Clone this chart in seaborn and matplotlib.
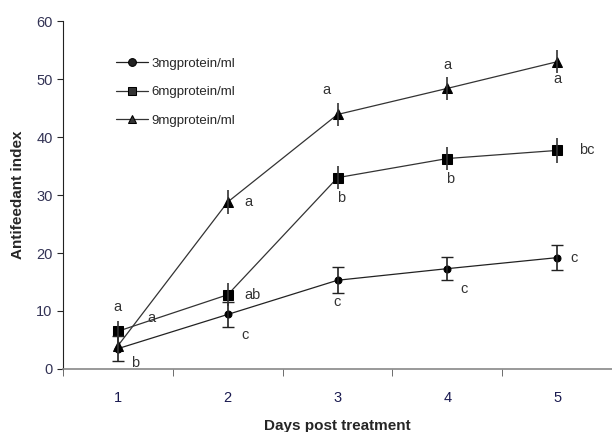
import numpy as np
import pandas as pd
import seaborn as sns
import matplotlib.pyplot as plt

sns.set_style("white")
plt.rcParams['font.family'] = ['Liberation Sans', 'DejaVu Sans']

days = [1, 2, 3, 4, 5]
series = ['3mgprotein/ml', '6mgprotein/ml', '9mgprotein/ml']
mean_3 = [3.5, 9.4, 15.3, 17.3, 19.2]
mean_6 = [6.5, 12.8, 33.0, 36.3, 37.7]
mean_9 = [4.0, 28.8, 43.9, 48.4, 53.0]
err_3 = [2.2, 2.1, 2.2, 2.0, 2.1]
err_6 = [1.8, 2.0, 2.0, 2.0, 2.2]
err_9 = [1.5, 2.0, 2.0, 2.0, 2.0]
letters_3 = ['b', 'c', 'c', 'c', 'c']
letters_6 = ['a', 'ab', 'b', 'b', 'bc']
letters_9 = ['a', 'a', 'a', 'a', 'a']

df = pd.DataFrame({
    'day': days * 3,
    'value': mean_3 + mean_6 + mean_9,
    'conc': [s for s in series for _ in days],
})

fig = plt.figure(figsize=(6.12, 4.32), dpi=100)
ax = fig.add_axes([0.103, 0.146, 0.897, 0.805])

sns.lineplot(data=df, x='day', y='value', hue='conc', style='conc',
             palette=['#222222', '#333333', '#333333'],
             markers={'3mgprotein/ml': 'o', '6mgprotein/ml': 's', '9mgprotein/ml': '^'},
             dashes=False, linewidth=0.9, markersize=7, markeredgecolor='black',
             ax=ax)
for line, ms in zip(ax.lines, [5, 7, 7]):
    line.set_markersize(ms)
    line.set_markerfacecolor('black')

ax.errorbar(days, mean_3, yerr=err_3, fmt='none', ecolor='#222222', elinewidth=1.2, capsize=4)
ax.errorbar(days, mean_6, yerr=err_6, fmt='none', ecolor='#333333', elinewidth=1.2, capsize=0)
ax.errorbar(days, mean_9, yerr=err_9, fmt='none', ecolor='#333333', elinewidth=1.2, capsize=0)

# significance letters (offsets in data units)
off_3 = [(0.12, -2.5), (0.12, -3.5), (0.0, -3.8), (0.12, -3.5), (0.12, 0.0)]
off_6 = [(0.0, 4.2), (0.15, 0.0), (0.03, -3.5), (0.03, -3.5), (0.2, 0.0)]
off_9 = [(0.27, 4.8), (0.15, 0.0), (-0.1, 4.2), (0.0, 4.0), (0.0, -3.0)]
for means, letters, offs in [(mean_3, letters_3, off_3), (mean_6, letters_6, off_6), (mean_9, letters_9, off_9)]:
    for d, m, t, (dx, dy) in zip(days, means, letters, offs):
        ha = 'left' if dx > 0.1 else 'center'
        ax.text(d + dx, m + dy, t, ha=ha, va='center', fontsize=10.5, color='#333333')

ax.set_xlim(0.5, 5.5)
ax.set_ylim(0, 60)
ax.set_yticks(range(0, 61, 10))
ax.set_xticks(days)
ax.set_xticks([0.5, 1.5, 2.5, 3.5, 4.5], minor=True)
ax.tick_params(axis='x', which='major', length=0, pad=16, labelsize=10.5, labelcolor='#1a1a50')
ax.tick_params(axis='x', which='minor', length=5, direction='out', bottom=True, color='#555555')
ax.tick_params(axis='y', length=4, direction='out', left=True, labelsize=10.5, labelcolor='#333355')

ax.set_xlabel('Days post treatment', fontsize=11, fontweight='bold', labelpad=10)
ax.set_ylabel('Antifeedant index', fontsize=11, fontweight='bold', labelpad=8)

sns.despine(ax=ax, top=True, right=True)
ax.spines['left'].set_color('#222222')
ax.spines['bottom'].set_color('#888888')
ax.spines['bottom'].set_linewidth(1.2)

leg = ax.legend(title=None, frameon=False, fontsize=9.5, handlelength=2.4, handletextpad=0.3,
                labelspacing=1.25, markerscale=0.8, loc='upper left', bbox_to_anchor=(0.075, 0.93))

fig.savefig('out.png', dpi=100)
